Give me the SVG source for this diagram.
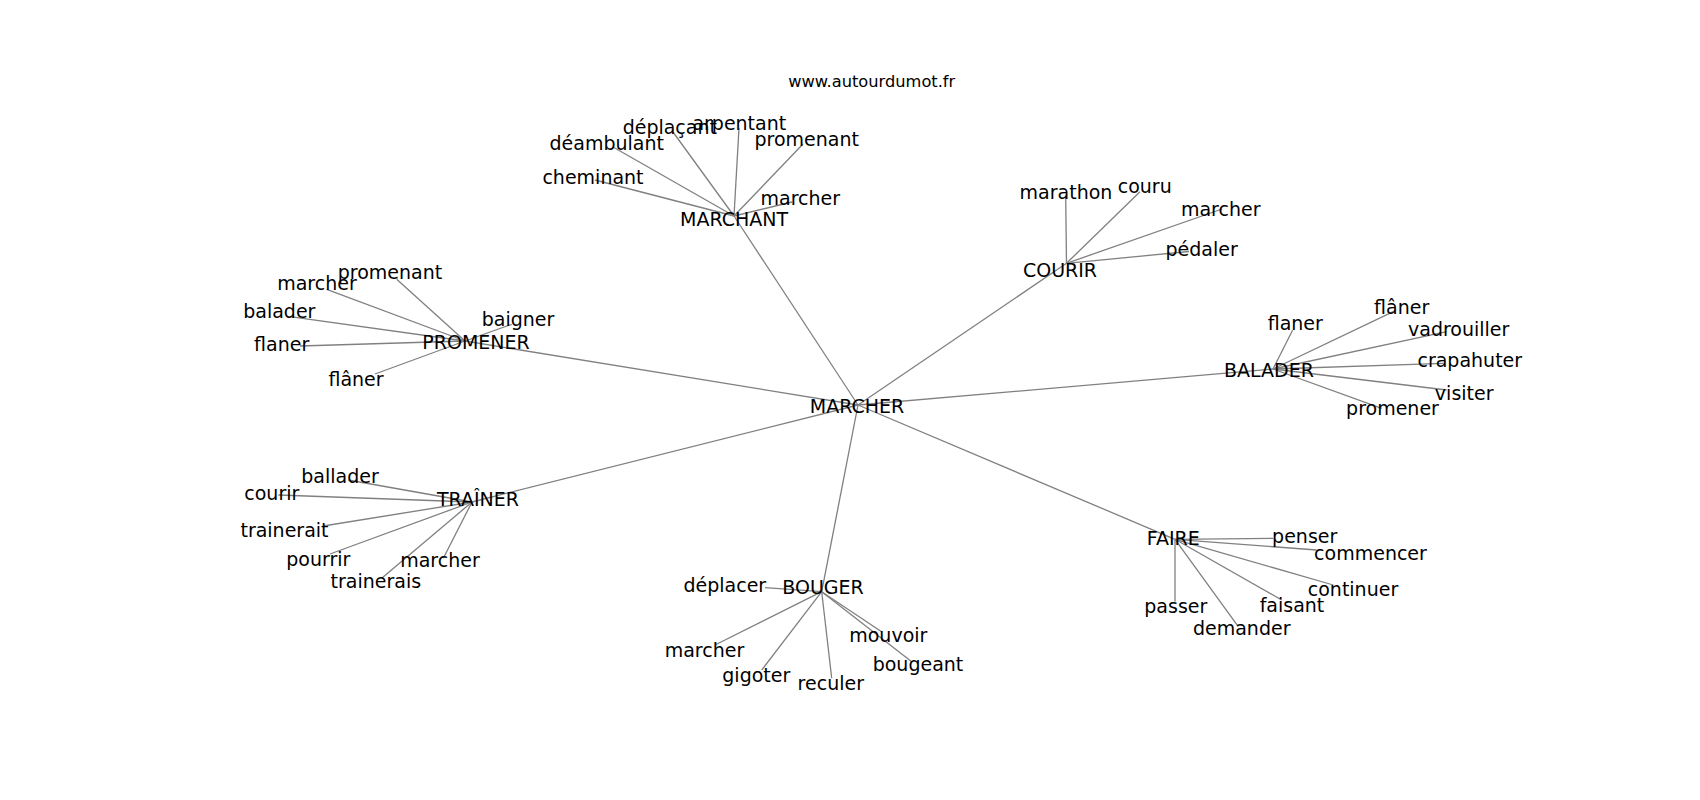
<svg xmlns="http://www.w3.org/2000/svg" width="1700" height="800" viewBox="0 0 1700 800">
<style>
text{font-family:"DejaVu Sans","Liberation Sans",sans-serif;font-size:19px;fill:#000;text-anchor:middle}
.title{font-size:16.25px}
#edges line{stroke:#808080;stroke-width:1.3;fill:none}
</style>
<rect width="1700" height="800" fill="#fff"/>
<text class="title" x="871.7" y="87.3">www.autourdumot.fr</text>
<g id="edges">
<line x1="858" y1="405" x2="734" y2="216"/>
<line x1="858" y1="405" x2="465" y2="341"/>
<line x1="858" y1="405" x2="472" y2="502"/>
<line x1="858" y1="405" x2="821.7" y2="591.7"/>
<line x1="858" y1="405" x2="1175" y2="539.3"/>
<line x1="858" y1="405" x2="1273" y2="369"/>
<line x1="858" y1="405" x2="1066.5" y2="263.3"/>
<line x1="734" y1="216" x2="595" y2="180"/>
<line x1="734" y1="216" x2="613" y2="147"/>
<line x1="734" y1="216" x2="673" y2="132"/>
<line x1="734" y1="216" x2="739" y2="128"/>
<line x1="734" y1="216" x2="803" y2="144"/>
<line x1="734" y1="216" x2="792" y2="202"/>
<line x1="465" y1="341" x2="396.7" y2="279.3"/>
<line x1="465" y1="341" x2="326.7" y2="289.3"/>
<line x1="465" y1="341" x2="290" y2="316.7"/>
<line x1="465" y1="341" x2="300" y2="346"/>
<line x1="465" y1="341" x2="375" y2="374"/>
<line x1="465" y1="341" x2="511.7" y2="324.3"/>
<line x1="472" y1="502" x2="348.3" y2="480"/>
<line x1="472" y1="502" x2="278.3" y2="495"/>
<line x1="472" y1="502" x2="323.3" y2="526"/>
<line x1="472" y1="502" x2="330" y2="554"/>
<line x1="472" y1="502" x2="381.7" y2="578.3"/>
<line x1="472" y1="502" x2="443.3" y2="558.3"/>
<line x1="821.7" y1="591.7" x2="765" y2="587.7"/>
<line x1="821.7" y1="591.7" x2="715" y2="645"/>
<line x1="821.7" y1="591.7" x2="761.7" y2="670"/>
<line x1="821.7" y1="591.7" x2="831.7" y2="678.3"/>
<line x1="821.7" y1="591.7" x2="882" y2="632"/>
<line x1="821.7" y1="591.7" x2="911.7" y2="661.7"/>
<line x1="1175" y1="539.3" x2="1273.3" y2="538.3"/>
<line x1="1175" y1="539.3" x2="1316.7" y2="550"/>
<line x1="1175" y1="539.3" x2="1333.3" y2="585"/>
<line x1="1175" y1="539.3" x2="1281.7" y2="600"/>
<line x1="1175" y1="539.3" x2="1175" y2="601.7"/>
<line x1="1175" y1="539.3" x2="1238.3" y2="626.7"/>
<line x1="1273" y1="369" x2="1292.7" y2="330"/>
<line x1="1273" y1="369" x2="1393.3" y2="311.7"/>
<line x1="1273" y1="369" x2="1446.7" y2="331.7"/>
<line x1="1273" y1="369" x2="1443.3" y2="363.3"/>
<line x1="1273" y1="369" x2="1446.7" y2="390"/>
<line x1="1273" y1="369" x2="1381.7" y2="408.3"/>
<line x1="1066.5" y1="263.3" x2="1065.7" y2="196.7"/>
<line x1="1066.5" y1="263.3" x2="1140" y2="191.7"/>
<line x1="1066.5" y1="263.3" x2="1222" y2="209"/>
<line x1="1066.5" y1="263.3" x2="1189" y2="251.5"/>
</g>
<g id="n-marcher"><text x="857" y="413">MARCHER</text></g>
<g id="n-marchant"><text x="734" y="225.7">MARCHANT</text></g>
<g id="n-marchant-deplacant"><text x="669.8" y="134">déplaçant</text></g>
<g id="n-marchant-arpentant"><text x="739.3" y="130">arpentant</text></g>
<g id="n-marchant-deambulant"><text x="606.7" y="150">déambulant</text></g>
<g id="n-marchant-promenant"><text x="806.7" y="146">promenant</text></g>
<g id="n-marchant-cheminant"><text x="593" y="184">cheminant</text></g>
<g id="n-marchant-marcher"><text x="800.3" y="205">marcher</text></g>
<g id="n-promener"><text x="476" y="349">PROMENER</text></g>
<g id="n-promener-promenant"><text x="390" y="279.3">promenant</text></g>
<g id="n-promener-marcher"><text x="317" y="290">marcher</text></g>
<g id="n-promener-balader"><text x="279.3" y="318.3">balader</text></g>
<g id="n-promener-flaner"><text x="281.7" y="350.7">flaner</text></g>
<g id="n-promener-flaner2"><text x="356" y="386">flâner</text></g>
<g id="n-promener-baigner"><text x="518" y="326">baigner</text></g>
<g id="n-trainer"><text x="478" y="506">TRAÎNER</text></g>
<g id="n-trainer-ballader"><text x="340" y="482.7">ballader</text></g>
<g id="n-trainer-courir"><text x="271.8" y="500">courir</text></g>
<g id="n-trainer-trainerait"><text x="284.5" y="537.3">trainerait</text></g>
<g id="n-trainer-pourrir"><text x="318.3" y="565.7">pourrir</text></g>
<g id="n-trainer-marcher"><text x="440" y="567.3">marcher</text></g>
<g id="n-trainer-trainerais"><text x="375.8" y="588.3">trainerais</text></g>
<g id="n-bouger"><text x="823" y="594">BOUGER</text></g>
<g id="n-bouger-deplacer"><text x="724.8" y="591.7">déplacer</text></g>
<g id="n-bouger-marcher"><text x="704.5" y="656.7">marcher</text></g>
<g id="n-bouger-gigoter"><text x="756.3" y="681.7">gigoter</text></g>
<g id="n-bouger-reculer"><text x="830.8" y="690">reculer</text></g>
<g id="n-bouger-mouvoir"><text x="888.3" y="641.7">mouvoir</text></g>
<g id="n-bouger-bougeant"><text x="918" y="670.7">bougeant</text></g>
<g id="n-faire"><text x="1173.3" y="545">FAIRE</text></g>
<g id="n-faire-penser"><text x="1304.7" y="543.3">penser</text></g>
<g id="n-faire-commencer"><text x="1370.5" y="560">commencer</text></g>
<g id="n-faire-continuer"><text x="1353" y="596">continuer</text></g>
<g id="n-faire-faisant"><text x="1292" y="611.7">faisant</text></g>
<g id="n-faire-passer"><text x="1175.8" y="612.7">passer</text></g>
<g id="n-faire-demander"><text x="1241.7" y="635">demander</text></g>
<g id="n-balader"><text x="1269" y="376.7">BALADER</text></g>
<g id="n-balader-flaner"><text x="1295.3" y="330">flaner</text></g>
<g id="n-balader-flaner2"><text x="1401.7" y="314">flâner</text></g>
<g id="n-balader-vadrouiller"><text x="1458.7" y="336">vadrouiller</text></g>
<g id="n-balader-crapahuter"><text x="1469.8" y="367.3">crapahuter</text></g>
<g id="n-balader-visiter"><text x="1464.2" y="400">visiter</text></g>
<g id="n-balader-promener"><text x="1392.5" y="415">promener</text></g>
<g id="n-courir"><text x="1060" y="276.5">COURIR</text></g>
<g id="n-courir-marathon"><text x="1066" y="199">marathon</text></g>
<g id="n-courir-couru"><text x="1144.7" y="192.7">couru</text></g>
<g id="n-courir-marcher"><text x="1220.7" y="216">marcher</text></g>
<g id="n-courir-pedaler"><text x="1201.6" y="256">pédaler</text></g>
</svg>
